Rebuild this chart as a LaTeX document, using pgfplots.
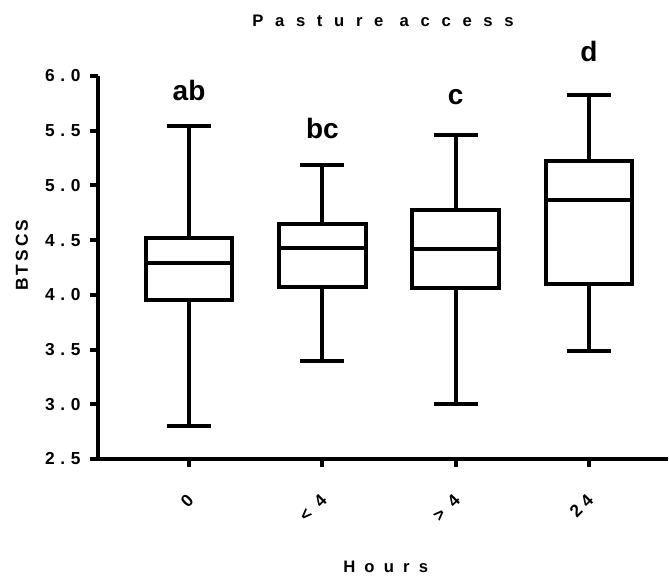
\documentclass[border=0pt]{standalone}
\usepackage{pgfplots}
\pgfplotsset{compat=1.18}
\usepgfplotslibrary{statistics}
\usepackage{fontspec}
\setmainfont{Liberation Sans}
\newfontfamily\tickfont[LetterSpace=33]{Liberation Sans}
\newfontfamily\titlefont[LetterSpace=70]{Liberation Sans}
\newfontfamily\xlabfont[LetterSpace=55]{Liberation Sans}
\newfontfamily\ylabfont[LetterSpace=18]{Liberation Sans}

\begin{document}
\begin{tikzpicture}
	% page = 669x582 px, 1px = 0.75pt, axis origin at px (98,459)
	\useasboundingbox (-73.5pt,-92.25pt) rectangle (428.25pt,344.25pt);
	\begin{axis}[
			at={(0,0)}, anchor=south west,
			scale only axis,
			width=427.5pt, height=287.25pt,
			xmin=-0.683, xmax=3.593,
			ymin=2.5, ymax=6.0,
			axis x line*=bottom, axis y line*=left,
			axis line style={line width=3pt},
			tick style={line width=3pt, black},
			tick align=outside,
			major tick length=6pt,
			xtick={0,1,2,3},
			xticklabels={0,{<~4},{>~4},24},
			ytick={2.5,3,3.5,4,4.5,5,5.5,6},
			yticklabels={2.5,3.0,3.5,4.0,4.5,5.0,5.5,6.0},
			tick label style={font=\tickfont\bfseries\fontsize{13}{15}\selectfont},
			xticklabel style={xshift=3.5pt, rotate=45, anchor=east},
			xticklabel shift=20pt,
			yticklabel style={xshift=-3.5pt},
			title={\titlefont\bfseries Pasture access},
			title style={at={(0.5,1)}, anchor=center, yshift=35pt, font=\fontsize{12.5}{14}\selectfont},
			xlabel={\xlabfont\bfseries Hours},
			xlabel style={at={(0.5,0)}, anchor=center, xshift=2pt, yshift=-81pt, font=\fontsize{12.5}{14}\selectfont},
			ylabel={\ylabfont\bfseries BTSCS},
			ylabel style={at={(axis description cs:-0.1333,0.532)}, anchor=center, rotate=0, font=\fontsize{13}{15}\selectfont},
			clip=false,
			boxplot/draw direction=y,
			every axis plot/.append style={black, line width=3pt, line join=miter, solid},
		]
		\addplot[boxplot prepared={draw position=0, lower whisker=2.80, lower quartile=3.95,
				median=4.29, upper quartile=4.52, upper whisker=5.54,
				box extend=0.65, whisker extend=0.33}] coordinates {};
		\addplot[boxplot prepared={draw position=1, lower whisker=3.40, lower quartile=4.07,
				median=4.43, upper quartile=4.65, upper whisker=5.19,
				box extend=0.65, whisker extend=0.33}] coordinates {};
		\addplot[boxplot prepared={draw position=2, lower whisker=3.00, lower quartile=4.06,
				median=4.42, upper quartile=4.78, upper whisker=5.46,
				box extend=0.65, whisker extend=0.33}] coordinates {};
		\addplot[boxplot prepared={draw position=3, lower whisker=3.49, lower quartile=4.10,
				median=4.87, upper quartile=5.22, upper whisker=5.83,
				box extend=0.65, whisker extend=0.33}] coordinates {};
		% significance letters
		\node[font=\bfseries\fontsize{21}{24}\selectfont] at (axis cs:0,5.87) {ab};
		\node[font=\bfseries\fontsize{21}{24}\selectfont] at (axis cs:1,5.52) {bc};
		\node[font=\bfseries\fontsize{21}{24}\selectfont] at (axis cs:2,5.81) {c};
		\node[font=\bfseries\fontsize{21}{24}\selectfont] at (axis cs:3,6.22) {d};
	\end{axis}
\end{tikzpicture}
\end{document}
